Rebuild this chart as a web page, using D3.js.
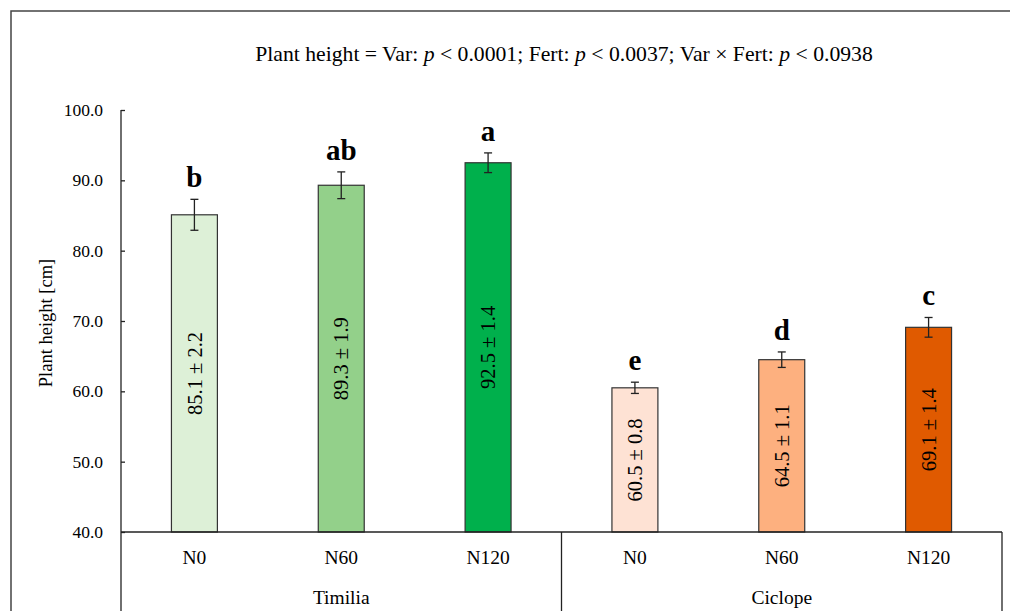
<!DOCTYPE html>
<html>
<head>
<meta charset="utf-8">
<script src="https://cdn.jsdelivr.net/npm/d3@7"></script>
<style>
  body { margin: 0; background: #fff; }
  svg { display: block; font-family: "Liberation Serif", "DejaVu Serif", serif; }
</style>
</head>
<body>
<svg id="chart"></svg>
<script>
// data
const varieties = ["Timilia", "Ciclope"];
const doses = ["N0", "N60", "N120"];
const means = [85.1, 89.3, 92.5, 60.5, 64.5, 69.1];
const sems = [2.2, 1.9, 1.4, 0.8, 1.1, 1.4];
const letters = ["b", "ab", "a", "e", "d", "c"];
const yTicks = [40, 50, 60, 70, 80, 90, 100];

const palette = ["#ddf0d7", "#93d08a", "#00b04c", "#fee2d4", "#fdb07f", "#e05a00"];

const W = 1010, H = 611;
const margin = { top: 110, right: 8, bottom: 79, left: 121 };

const svg = d3.select("#chart").attr("width", W).attr("height", H);

// outer frame (runs off the right/bottom edge like the source)
svg.append("rect")
  .attr("x", 11).attr("y", 11)
  .attr("width", W).attr("height", H)
  .attr("fill", "none").attr("stroke", "#444").attr("stroke-width", 1.5);

const cats = [];
varieties.forEach(v => doses.forEach(d => cats.push(v + "|" + d)));

const x = d3.scaleBand()
  .domain(cats)
  .range([margin.left, W - margin.right])
  .paddingInner(0.687)
  .paddingOuter(0.3435);

const y = d3.scaleLinear()
  .domain([40, 100])
  .range([H - margin.bottom, margin.top]);

const base = y(40);

// title
const title = svg.append("text")
  .attr("x", 564)
  .attr("y", 61)
  .attr("text-anchor", "middle")
  .style("font-size", "21.7px")
  .attr("fill", "#000");
const parts = [
  ["Plant height = Var: ", false], ["p", true], [" < 0.0001; Fert: ", false], ["p", true],
  [" < 0.0037; Var × Fert: ", false], ["p", true], [" < 0.0938", false]
];
parts.forEach(([t, it]) => {
  title.append("tspan").text(t).style("font-style", it ? "italic" : "normal");
});

// y axis, ticks pointing inward
const yAxis = svg.append("g")
  .attr("transform", `translate(${margin.left},0)`)
  .call(d3.axisRight(y).tickValues(yTicks).tickSize(4).tickFormat(d3.format(".1f")));
yAxis.select(".domain").remove();
yAxis.selectAll(".tick line").attr("stroke", "#222").attr("stroke-width", 1.3);
yAxis.selectAll(".tick text")
  .attr("x", -18).attr("text-anchor", "end")
  .style("font-size", "17.5px").style("font-family", "Liberation Serif").attr("fill", "#000");

svg.append("line")
  .attr("x1", margin.left).attr("x2", margin.left)
  .attr("y1", y(100)).attr("y2", H)
  .attr("stroke", "#222").attr("stroke-width", 1.3);

svg.append("text")
  .attr("transform", `translate(52,${(y(100) + base) / 2 + 2}) rotate(-90)`)
  .attr("text-anchor", "middle")
  .style("font-size", "18.5px")
  .text("Plant height [cm]");

// bars
const rows = cats.map((c, i) => ({ key: c, mean: means[i], se: sems[i], letter: letters[i], color: palette[i] }));

svg.selectAll("rect.bar")
  .data(rows)
  .enter()
  .append("rect")
  .attr("class", "bar")
  .attr("x", d => x(d.key))
  .attr("y", d => y(d.mean))
  .attr("width", x.bandwidth())
  .attr("height", d => base - y(d.mean))
  .attr("fill", d => d.color)
  .attr("stroke", "#333")
  .attr("stroke-width", 1.2);

// error bars
const eb = svg.selectAll("g.err").data(rows).enter().append("g").attr("class", "err")
  .attr("transform", d => `translate(${x(d.key) + x.bandwidth() / 2},0)`)
  .attr("stroke", "#222").attr("stroke-width", 1.3);
eb.append("line").attr("y1", d => y(d.mean + d.se)).attr("y2", d => y(d.mean - d.se));
eb.append("line").attr("x1", -4).attr("x2", 4).attr("y1", d => y(d.mean + d.se)).attr("y2", d => y(d.mean + d.se));
eb.append("line").attr("x1", -4).attr("x2", 4).attr("y1", d => y(d.mean - d.se)).attr("y2", d => y(d.mean - d.se));

// significance letters
svg.selectAll("text.letter")
  .data(rows)
  .enter()
  .append("text")
  .attr("class", "letter")
  .attr("x", d => x(d.key) + x.bandwidth() / 2)
  .attr("y", d => y(d.mean + d.se) - 12)
  .attr("text-anchor", "middle")
  .style("font-size", "29px")
  .style("font-weight", "bold")
  .text(d => d.letter);

// mean ± se inside bars
svg.selectAll("text.val")
  .data(rows)
  .enter()
  .append("text")
  .attr("class", "val")
  .attr("transform", d => `translate(${x(d.key) + x.bandwidth() / 2},${(y(d.mean) + base) / 2}) rotate(-90)`)
  .attr("text-anchor", "middle")
  .attr("dy", "0.35em")
  .style("font-size", "20.5px")
  .text(d => `${d.mean.toFixed(1)} ± ${d.se.toFixed(1)}`);

// category axis: baseline, group separators, labels
svg.append("line")
  .attr("x1", margin.left).attr("x2", W - margin.right)
  .attr("y1", base).attr("y2", base)
  .attr("stroke", "#222").attr("stroke-width", 1.3);

const groupW = (W - margin.right - margin.left) / varieties.length;
varieties.forEach((v, gi) => {
  const gx = margin.left + groupW * (gi + 1);
  svg.append("line")
    .attr("x1", gx).attr("x2", gx)
    .attr("y1", base).attr("y2", H)
    .attr("stroke", "#222").attr("stroke-width", 1.3);
  svg.append("text")
    .attr("x", margin.left + groupW * (gi + 0.5))
    .attr("y", 604)
    .attr("text-anchor", "middle")
    .style("font-size", "19.5px")
    .text(v);
});

svg.selectAll("text.dose")
  .data(rows)
  .enter()
  .append("text")
  .attr("class", "dose")
  .attr("x", d => x(d.key) + x.bandwidth() / 2)
  .attr("y", 564)
  .attr("text-anchor", "middle")
  .style("font-size", "19.5px")
  .text(d => d.key.split("|")[1]);
</script>
</body>
</html>
